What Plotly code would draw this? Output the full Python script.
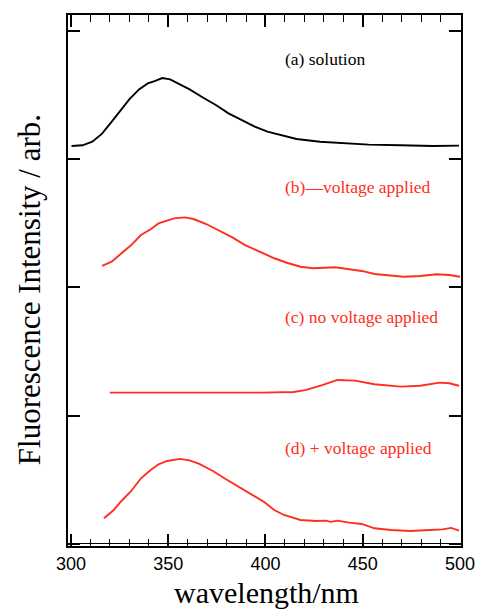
import plotly.graph_objects as go

# Wavelength (nm) and intensity (offset, arb.)
wl_a = [300.3, 306, 311, 316, 321, 326, 330, 335, 339.5, 343, 347, 351, 355, 361, 368, 374.5,
        381, 388, 394.5, 401, 408, 416, 428, 441, 453, 469.5, 486, 499.5]
int_a = [3.103, 3.109, 3.137, 3.20, 3.293, 3.39, 3.467, 3.545, 3.592, 3.61, 3.633, 3.623, 3.592,
         3.545, 3.48, 3.423, 3.358, 3.306, 3.254, 3.215, 3.189, 3.158, 3.137, 3.127, 3.114,
         3.109, 3.103, 3.106]

wl_b = [316, 321, 326, 331, 336, 341, 345, 349.5, 353, 358.5, 363, 369.5, 376, 383, 389.5, 398,
        404.5, 411, 418, 424.5, 436, 443, 449.5, 456, 463, 471, 479.5, 488, 494.5, 500]
int_b = [2.168, 2.201, 2.267, 2.331, 2.409, 2.454, 2.5, 2.519, 2.539, 2.547, 2.534, 2.495, 2.448,
         2.391, 2.331, 2.274, 2.228, 2.193, 2.162, 2.15, 2.158, 2.142, 2.129, 2.105, 2.097,
         2.084, 2.09, 2.103, 2.097, 2.084]

wl_c = [320, 339.5, 364.5, 384.5, 398, 414.5, 421, 429.5, 437, 446, 456, 469.5, 479.5, 489.5,
        494.5, 499.5]
int_c = [1.18, 1.18, 1.177, 1.175, 1.18, 1.185, 1.201, 1.24, 1.279, 1.274, 1.245, 1.227, 1.234,
         1.258, 1.253, 1.234]

wl_d = [317, 322, 326, 331, 336, 341, 345, 349.5, 356, 361, 366, 373, 379.5, 386, 393, 399.5,
        404.5, 409.5, 418, 426, 431, 433.5, 437, 443, 449.5, 456, 464.5, 474.5, 484.5, 491,
        495.5, 499.5]
int_d = [0.2, 0.265, 0.335, 0.413, 0.512, 0.577, 0.621, 0.647, 0.663, 0.652, 0.624, 0.569, 0.507,
         0.447, 0.388, 0.325, 0.265, 0.226, 0.187, 0.179, 0.182, 0.172, 0.182, 0.166, 0.156,
         0.122, 0.109, 0.101, 0.109, 0.114, 0.125, 0.104]

labels = ["(a) solution", "(b)\u2014voltage applied", "(c) no voltage applied", "(d) + voltage applied"]
label_y = [3.78, 2.78, 1.77, 0.75]

BLACK = "#000000"
RED = "#ff2e1e"
series = [(wl_a, int_a, BLACK), (wl_b, int_b, RED), (wl_c, int_c, RED), (wl_d, int_d, RED)]

fig = go.Figure()
for x, y, c in series:
    fig.add_trace(go.Scatter(x=x, y=y, mode="lines", line=dict(color=c, width=1.9),
                             showlegend=False, hoverinfo="skip"))

for txt, yy, c in zip(labels, label_y, [BLACK, RED, RED, RED]):
    fig.add_annotation(x=409, y=yy, xref="x", yref="y", text=txt, showarrow=False,
                       xanchor="left", yanchor="middle",
                       font=dict(family="Liberation Serif", size=17.5, color=c))

fig.add_annotation(xref="paper", yref="paper", x=-0.099, y=0.482, text="Fluorescence Intensity / arb.",
                   textangle=-90, showarrow=False, xanchor="center", yanchor="middle",
                   font=dict(family="Liberation Serif", size=31, color="black"))
fig.add_annotation(xref="paper", yref="paper", x=0.505, y=-0.0885, text="wavelength/nm",
                   showarrow=False, xanchor="center", yanchor="middle",
                   font=dict(family="Liberation Serif", size=30, color="black"))

fig.update_xaxes(range=[298.5, 500.5], tickmode="linear", tick0=300, dtick=50,
                 ticks="inside", ticklen=12, tickwidth=1.5, tickcolor="black",
                 minor=dict(dtick=10, ticklen=7, ticks="inside", tickwidth=1.2, tickcolor="black"),
                 showline=True, linewidth=2, linecolor="black", mirror="ticks",
                 showgrid=False, zeroline=False,
                 tickfont=dict(family="Liberation Sans", size=18, color="black"))
fig.update_yaxes(range=[-0.016, 4.125], tickmode="linear", tick0=0, dtick=1,
                 ticks="inside", ticklen=12, tickwidth=1.5, tickcolor="black",
                 showticklabels=False,
                 showline=True, linewidth=2, linecolor="black", mirror="ticks",
                 showgrid=False, zeroline=True, zerolinecolor="black", zerolinewidth=1)

fig.update_layout(width=487, height=610, margin=dict(l=68, r=15, t=15, b=64),
                  plot_bgcolor="white", paper_bgcolor="white", hovermode=False)

fig.write_html("out.html", config={"displayModeBar": False},
               post_script="document.body.style.margin='0';document.body.style.overflow='hidden';")
